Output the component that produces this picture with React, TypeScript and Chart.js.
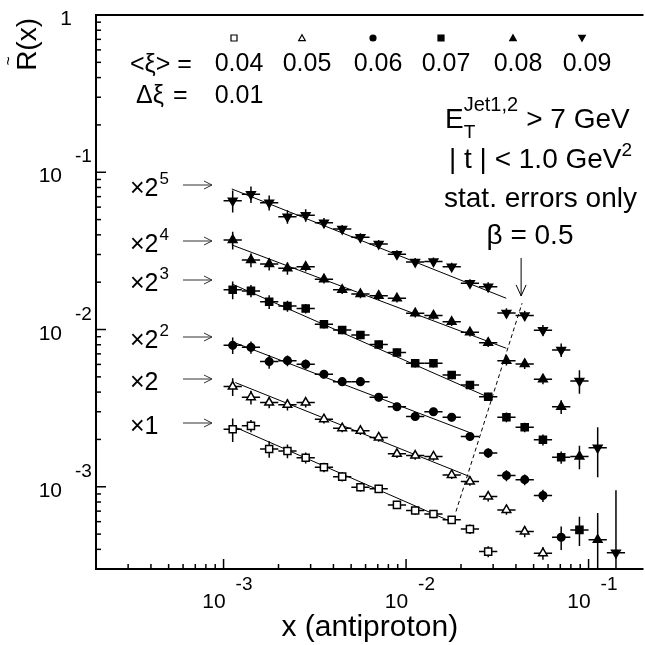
import React, { useEffect, useRef } from 'react';
import { Chart, registerables } from 'chart.js';

Chart.register(...registerables);

const FONT = '"Liberation Sans", Arial, Helvetica, sans-serif';

// ---- data ----
const xCenters = [0.001122, 0.001413, 0.001778, 0.002239, 0.002818, 0.003548, 0.004467, 0.005623, 0.007079, 0.008913, 0.01122, 0.01413, 0.01778, 0.02239, 0.02818, 0.03548, 0.04467, 0.05623, 0.07079, 0.08913, 0.1122, 0.1413];
const binEdges = [0.001, 0.001259, 0.001585, 0.001995, 0.002512, 0.003162, 0.003981, 0.005012, 0.00631, 0.007943, 0.01, 0.01259, 0.01585, 0.01995, 0.02512, 0.03162, 0.03981, 0.05012, 0.0631, 0.07943, 0.1, 0.1259, 0.1585];

const xiLabels = ['0.04', '0.05', '0.06', '0.07', '0.08', '0.09'];
const factorExps = ['1', '', '2', '3', '4', '5']; // ×1, ×2, ×2^2 ...

// plotted values (already multiplied by the factors)
const r004 = [0.00232, 0.00244, 0.00174, 0.00169, 0.00153, 0.00133, 0.00116, 0.000994, 0.00097, 0.000767, 0.000706, 0.000672, 0.000616, 0.000538, 0.000387];
const r005 = [0.00434, 0.00371, 0.00343, 0.00332, 0.00343, 0.00269, 0.00236, 0.00227, 0.00206, 0.00162, 0.00158, 0.00156, 0.00119, 0.00108, 0.000867, 0.000713, 0.000519, 0.000378];
const r006 = [0.00793, 0.0077, 0.00625, 0.00634, 0.00602, 0.0052, 0.00466, 0.00466, 0.00371, 0.00323, 0.0028, 0.003, 0.00277, 0.00209, 0.00164, 0.00118, 0.00111, 0.000879, 0.000478];
const r007 = [0.0179, 0.0176, 0.015, 0.0141, 0.0136, 0.0108, 0.00994, 0.00924, 0.00804, 0.00715, 0.0061, 0.0061, 0.00514, 0.00444, 0.00374, 0.00277, 0.00239, 0.00199, 0.00154, 0.000532];
const r008 = [0.0371, 0.0277, 0.0261, 0.0245, 0.0251, 0.0209, 0.0179, 0.0168, 0.0164, 0.0158, 0.0127, 0.0123, 0.0112, 0.00959, 0.00825, 0.00634, 0.00604, 0.00483, 0.00323, 0.00156, 0.00046];
const r009 = [0.066, 0.0724, 0.0641, 0.0522, 0.0533, 0.0478, 0.0436, 0.0386, 0.035, 0.0301, 0.0269, 0.0271, 0.0251, 0.0197, 0.0187, 0.01275, 0.01229, 0.00991, 0.00742, 0.00471, 0.00177, 0.00038];

// relative statistical errors
const e004 = [0.17, 0.09, 0.12, 0.1, 0.08, 0.07, 0.07, 0.06, 0.06, 0.06, 0.06, 0.06, 0.06, 0.07, 0.08];
const e005 = [0.13, 0.1, 0.08, 0.08, 0.07, 0.06, 0.06, 0.06, 0.06, 0.06, 0.06, 0.06, 0.06, 0.06, 0.07, 0.07, 0.08, 0.09];
const e006 = [0.12, 0.09, 0.1, 0.08, 0.07, 0.06, 0.06, 0.06, 0.06, 0.06, 0.06, 0.06, 0.06, 0.06, 0.07, 0.08, 0.08, 0.09, 0.17];
const e007 = [0.13, 0.09, 0.1, 0.08, 0.07, 0.06, 0.06, 0.06, 0.06, 0.06, 0.06, 0.06, 0.06, 0.06, 0.06, 0.07, 0.07, 0.08, 0.09, 0.21];
const e008 = [0.13, 0.1, 0.09, 0.09, 0.07, 0.06, 0.06, 0.06, 0.06, 0.06, 0.06, 0.06, 0.06, 0.06, 0.06, 0.07, 0.07, 0.07, 0.1, 0.17, 0.48];
const e009 = [0.16, 0.12, 0.11, 0.1, 0.09, 0.07, 0.06, 0.06, 0.06, 0.06, 0.06, 0.06, 0.06, 0.06, 0.07, 0.07, 0.07, 0.08, 0.1, 0.17, 0.35, 1.5];

// power-law fit lines (start / end points), order: 0.04 .. 0.09
const fitX0 = [0.00116, 0.00116, 0.00111, 0.00111, 0.00111, 0.00111];
const fitY0 = [0.00239, 0.0046, 0.00838, 0.0195, 0.0345, 0.0783];
const fitX1 = [0.01778, 0.02236, 0.02236, 0.02996, 0.0354, 0.0354];
const fitY1 = [0.000598, 0.00116, 0.00221, 0.0036, 0.0076, 0.0158];

// beta = 0.5 dashed line
const betaX = [0.01877, 0.04323];
const betaY = [0.000696, 0.0147];
const betaArrowX = 0.0427;
const betaArrowY = [0.0285, 0.01636];

const X_MIN = 2e-4, X_MAX = 0.2, Y_MIN = 3e-4, Y_MAX = 1;

type Shape = 'rect' | 'triangle' | 'circle';
const series: { values: number[]; errs: number[]; shape: Shape; filled: boolean; rot: number; r: number }[] = [
  { values: r004, errs: e004, shape: 'rect', filled: false, rot: 0, r: 5 },
  { values: r005, errs: e005, shape: 'triangle', filled: false, rot: 0, r: 5 },
  { values: r006, errs: e006, shape: 'circle', filled: true, rot: 0, r: 3.8 },
  { values: r007, errs: e007, shape: 'rect', filled: true, rot: 0, r: 5 },
  { values: r008, errs: e008, shape: 'triangle', filled: true, rot: 0, r: 5 },
  { values: r009, errs: e009, shape: 'triangle', filled: true, rot: 180, r: 5 },
];

function text(ctx: CanvasRenderingContext2D, s: string, x: number, y: number, size: number, align: CanvasTextAlign = 'left') {
  ctx.font = `${size}px ${FONT}`;
  ctx.textAlign = align;
  ctx.textBaseline = 'alphabetic';
  ctx.fillText(s, x, y);
  return ctx.measureText(s).width;
}

function smallMarker(ctx: CanvasRenderingContext2D, shape: Shape, filled: boolean, rot: number, x: number, y: number, s: number) {
  ctx.beginPath();
  if (shape === 'rect') {
    ctx.rect(x - s / 2, y - s / 2, s, s);
  } else if (shape === 'circle') {
    ctx.arc(x, y, s / 2, 0, Math.PI * 2);
  } else {
    const d = rot ? -1 : 1;
    ctx.moveTo(x, y - d * s * 0.55);
    ctx.lineTo(x + s * 0.55, y + d * s * 0.45);
    ctx.lineTo(x - s * 0.55, y + d * s * 0.45);
    ctx.closePath();
  }
  ctx.lineWidth = 1.2;
  if (filled) { ctx.fillStyle = '#000'; ctx.fill(); }
  ctx.strokeStyle = '#000';
  ctx.stroke();
}

const errorBars = {
  id: 'errorBars',
  beforeDatasetsDraw(chart: any) {
    const ctx: CanvasRenderingContext2D = chart.ctx;
    const xs = chart.scales.x, ys = chart.scales.y;
    const ca = chart.chartArea;
    ctx.save();
    ctx.beginPath();
    ctx.rect(ca.left, ca.top, ca.right - ca.left, ca.bottom - ca.top);
    ctx.clip();
    ctx.strokeStyle = '#000';
    ctx.lineWidth = 1.5;
    series.forEach((s, si) => {
      const meta = chart.getDatasetMeta(si);
      s.values.forEach((v, k) => {
        const p = meta.data[k];
        if (!p) return;
        const xl = xs.getPixelForValue(binEdges[k]);
        const xr = xs.getPixelForValue(binEdges[k + 1]);
        const lo = v * (1 - s.errs[k]);
        const yl = lo > 0 ? ys.getPixelForValue(lo) : ca.bottom + 5;
        const yh = ys.getPixelForValue(v * (1 + s.errs[k]));
        ctx.beginPath();
        ctx.moveTo(xl, p.y); ctx.lineTo(xr, p.y);
        ctx.moveTo(p.x, yh); ctx.lineTo(p.x, yl);
        ctx.stroke();
      });
    });
    ctx.restore();
  },
};

function arrowRight(ctx: CanvasRenderingContext2D, x0: number, x1: number, y: number) {
  ctx.beginPath();
  ctx.moveTo(x0, y); ctx.lineTo(x1, y);
  ctx.moveTo(x1 - 8, y - 4); ctx.lineTo(x1, y); ctx.lineTo(x1 - 8, y + 4);
  ctx.stroke();
}

const decorations = {
  id: 'decorations',
  afterDraw(chart: any) {
    const ctx: CanvasRenderingContext2D = chart.ctx;
    const xs = chart.scales.x, ys = chart.scales.y;
    const { left, right, top, bottom } = chart.chartArea;
    ctx.save();
    ctx.fillStyle = '#000';
    ctx.strokeStyle = '#000';
    // frame
    ctx.lineWidth = 2;
    ctx.beginPath();
    ctx.moveTo(right, top); ctx.lineTo(left, top); ctx.lineTo(left, bottom); ctx.lineTo(right, bottom);
    ctx.stroke();
    // ticks
    ctx.lineWidth = 1.5;
    for (let d = -4; d <= 0; d++) {
      for (let m = 1; m <= 9; m++) {
        const v = m * Math.pow(10, d);
        const len = m === 1 ? 10 : 5;
        if (v > X_MIN * 1.01 && v < X_MAX * 0.99) {
          const px = xs.getPixelForValue(v);
          ctx.beginPath(); ctx.moveTo(px, bottom); ctx.lineTo(px, bottom - len); ctx.stroke();
        }
        if (v > Y_MIN * 1.01 && v < Y_MAX * 0.99) {
          const py = ys.getPixelForValue(v);
          ctx.beginPath(); ctx.moveTo(left, py); ctx.lineTo(left + len, py); ctx.stroke();
        }
      }
    }
    // x tick labels
    [[1e-3, '-3'], [1e-2, '-2'], [1e-1, '-1']].forEach(([v, e]) => {
      const px = xs.getPixelForValue(v as number);
      text(ctx, '10', px + 2, bottom + 39, 21, 'right');
      text(ctx, e as string, px + 12, bottom + 21, 19, 'left');
    });
    // y tick labels
    [[1e-3, '-3'], [1e-2, '-2'], [1e-1, '-1']].forEach(([v, e]) => {
      const py = ys.getPixelForValue(v as number);
      text(ctx, '10', 62, py + 10, 21, 'right');
      text(ctx, e as string, 75, py - 10, 19, 'left');
    });
    text(ctx, '1', 72, ys.getPixelForValue(1) + 10, 21, 'right');

    // axis titles
    text(ctx, 'x (antiproton)', (left + right) / 2, 636, 30, 'center');
    ctx.save();
    ctx.translate(36, 18);
    ctx.rotate(-Math.PI / 2);
    ctx.font = `28px ${FONT}`;
    const wR = ctx.measureText('R(x)').width;
    const wRR = ctx.measureText('R').width;
    text(ctx, 'R(x)', -wR, 0, 28, 'left');
    text(ctx, '~', -wR + wRR / 2, -22, 16, 'center');
    ctx.restore();

    // xi legend row
    text(ctx, '<ξ> =', 130, 72, 25, 'left');
    const xiCenters = [239, 307, 378, 446, 518, 587];
    xiLabels.forEach((l, i) => {
      text(ctx, l, xiCenters[i], 71, 25, 'center');
      const s = series[i];
      smallMarker(ctx, s.shape, s.filled, s.rot, xiCenters[i] - 5, 38, 6);
    });
    text(ctx, 'Δξ', 136, 103, 25, 'left');
    text(ctx, '=', 173, 103, 25, 'left');
    text(ctx, '0.01', 239, 103, 25, 'center');

    // scale factor labels
    const fy = [185, 241, 280, 337, 379, 423];
    ctx.lineWidth = 1;
    ctx.strokeStyle = '#333';
    for (let i = 5; i >= 0; i--) {
      const y = fy[5 - i];
      const w1 = text(ctx, '×', 130, y + 11, 25, 'left');
      const w2 = text(ctx, i === 0 ? '1' : '2', 130 + w1, y + 11, 25, 'left');
      if (i >= 2) text(ctx, factorExps[i], 130 + w1 + w2 + 1, y - 1, 17, 'left');
      arrowRight(ctx, 183, 212, y);
    }

    // right text block
    let x = 445;
    x += text(ctx, 'E', x, 128, 28, 'left');
    text(ctx, 'T', x, 138, 19, 'left');
    const wj = text(ctx, 'Jet1,2', x, 111, 20, 'left');
    text(ctx, '> 7 GeV', x + wj + 8, 128, 28, 'left');
    const w3 = text(ctx, '| t | < 1.0 GeV', 449, 168, 28, 'left');
    text(ctx, '2', 449 + w3, 156, 19, 'left');
    text(ctx, 'stat. errors only', 444, 207, 28, 'left');
    text(ctx, 'β = 0.5', 530, 244, 28, 'center');
    // beta arrow
    const ax = xs.getPixelForValue(betaArrowX);
    const ay0 = ys.getPixelForValue(betaArrowY[0]);
    const ay1 = ys.getPixelForValue(betaArrowY[1]);
    ctx.strokeStyle = '#000';
    ctx.lineWidth = 1;
    ctx.beginPath();
    ctx.moveTo(ax, ay0); ctx.lineTo(ax, ay1);
    ctx.moveTo(ax - 5, ay1 - 11); ctx.lineTo(ax, ay1); ctx.lineTo(ax + 5, ay1 - 11);
    ctx.stroke();
    ctx.restore();
  },
};

export default function App() {
  const ref = useRef<HTMLCanvasElement>(null);
  useEffect(() => {
    const canvas = ref.current;
    if (!canvas) return;
    const datasets: any[] = [];
    series.forEach((s) => {
      datasets.push({
        type: 'scatter',
        data: s.values.map((v, k) => ({ x: xCenters[k], y: v })),
        showLine: false,
        pointStyle: s.shape,
        pointRotation: s.rot,
        pointRadius: s.r,
        pointHoverRadius: s.r,
        pointBorderWidth: 1.5,
        pointBorderColor: '#000',
        pointBackgroundColor: s.filled ? '#000' : '#fff',
        order: 0,
      });
    });
    fitX0.forEach((_, i) => {
      datasets.push({
        type: 'scatter',
        data: [{ x: fitX0[i], y: fitY0[i] }, { x: fitX1[i], y: fitY1[i] }],
        showLine: true,
        borderColor: '#000',
        borderWidth: 1,
        pointRadius: 0,
        order: 1,
      });
    });
    datasets.push({
      type: 'scatter',
      data: [{ x: betaX[0], y: betaY[0] }, { x: betaX[1], y: betaY[1] }],
      showLine: true,
      borderColor: '#000',
      borderWidth: 1,
      borderDash: [4, 3],
      pointRadius: 0,
      order: 1,
    });
    const chart = new Chart(canvas, {
      type: 'scatter',
      data: { datasets },
      options: {
        responsive: false,
        animation: false,
        devicePixelRatio: 1,
        layout: { padding: { left: 96, right: 2, top: 15, bottom: 76 } },
        scales: {
          x: { type: 'logarithmic', min: X_MIN, max: X_MAX, display: false },
          y: { type: 'logarithmic', min: Y_MIN, max: Y_MAX, display: false },
        },
        plugins: { legend: { display: false }, tooltip: { enabled: false } },
        events: [],
      },
      plugins: [errorBars, decorations],
    } as any);
    return () => chart.destroy();
  }, []);
  return (
    <div style={{ position: 'fixed', left: 0, top: 0, width: 645, height: 645, overflow: 'hidden', background: '#fff' }}>
      <canvas ref={ref} width={650} height={645} style={{ width: 650, height: 645, display: 'block' }} />
    </div>
  );
}
